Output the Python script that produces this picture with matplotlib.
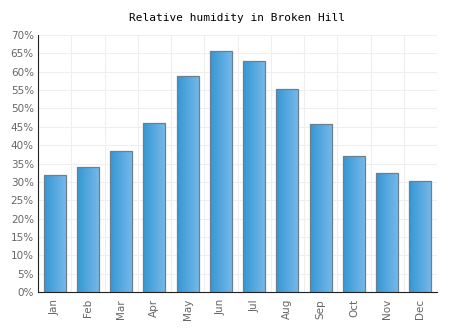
import matplotlib
matplotlib.use("Agg")
import matplotlib.pyplot as plt
import numpy as np
from matplotlib.ticker import FuncFormatter, MultipleLocator

months = ["Jan", "Feb", "Mar", "Apr", "May", "Jun",
          "Jul", "Aug", "Sep", "Oct", "Nov", "Dec"]
humidity = [31.9, 34.1, 38.5, 46.0, 58.9, 65.6,
            62.9, 55.3, 45.7, 37.1, 32.3, 30.3]

plt.rcParams["font.family"] = "DejaVu Sans Mono"

fig = plt.figure(figsize=(4.74, 3.31), dpi=100)
ax = fig.add_axes([38 / 474, 1 - 292 / 331, 399 / 474, 257 / 331])

x = np.arange(len(months))
bars = ax.bar(x, humidity, width=0.66, color="none",
              edgecolor="#6b7f8e", linewidth=0.9, zorder=3)

# left-to-right gradient fill, clipped to each bar
grad = np.linspace(0, 1, 64).reshape(1, -1)
cmap = matplotlib.colors.LinearSegmentedColormap.from_list(
    "bar", ["#3597d3", "#74b8ea"])
for b in bars:
    bx, by = b.get_x(), b.get_y()
    w, h = b.get_width(), b.get_height()
    im = ax.imshow(grad, cmap=cmap, aspect="auto", zorder=2,
                   extent=(bx, bx + w, by, by + h))
    im.set_clip_path(b)

ax.set_xlim(-0.5, len(months) - 0.5)
ax.set_ylim(0, 70)
ax.yaxis.set_major_locator(MultipleLocator(5))
ax.yaxis.set_major_formatter(FuncFormatter(lambda v, p: f"{v:.0f}%"))
ax.set_xticks(x)
ax.set_xticklabels(months, rotation=90)
ax.set_xticks(np.arange(-0.5, len(months)), minor=True)

ax.grid(axis="y", which="major", color="#efefef", linewidth=0.8, zorder=0)
ax.grid(axis="x", which="minor", color="#efefef", linewidth=0.8, zorder=0)

for s in ["top", "right"]:
    ax.spines[s].set_visible(False)
ax.spines["left"].set_color("#222222")
ax.spines["bottom"].set_color("#222222")
ax.tick_params(axis="both", which="both", length=0, labelsize=7.5,
               labelcolor="#666666")
for lbl in ax.get_xticklabels() + ax.get_yticklabels():
    lbl.set_family("DejaVu Sans")
ax.tick_params(axis="y", pad=3)
ax.tick_params(axis="x", pad=5)

fig.text(0.5, 1 - 18 / 331, "Relative humidity in Broken Hill",
         ha="center", va="center", fontsize=8, color="#000000")

fig.savefig("out.png", dpi=100)
